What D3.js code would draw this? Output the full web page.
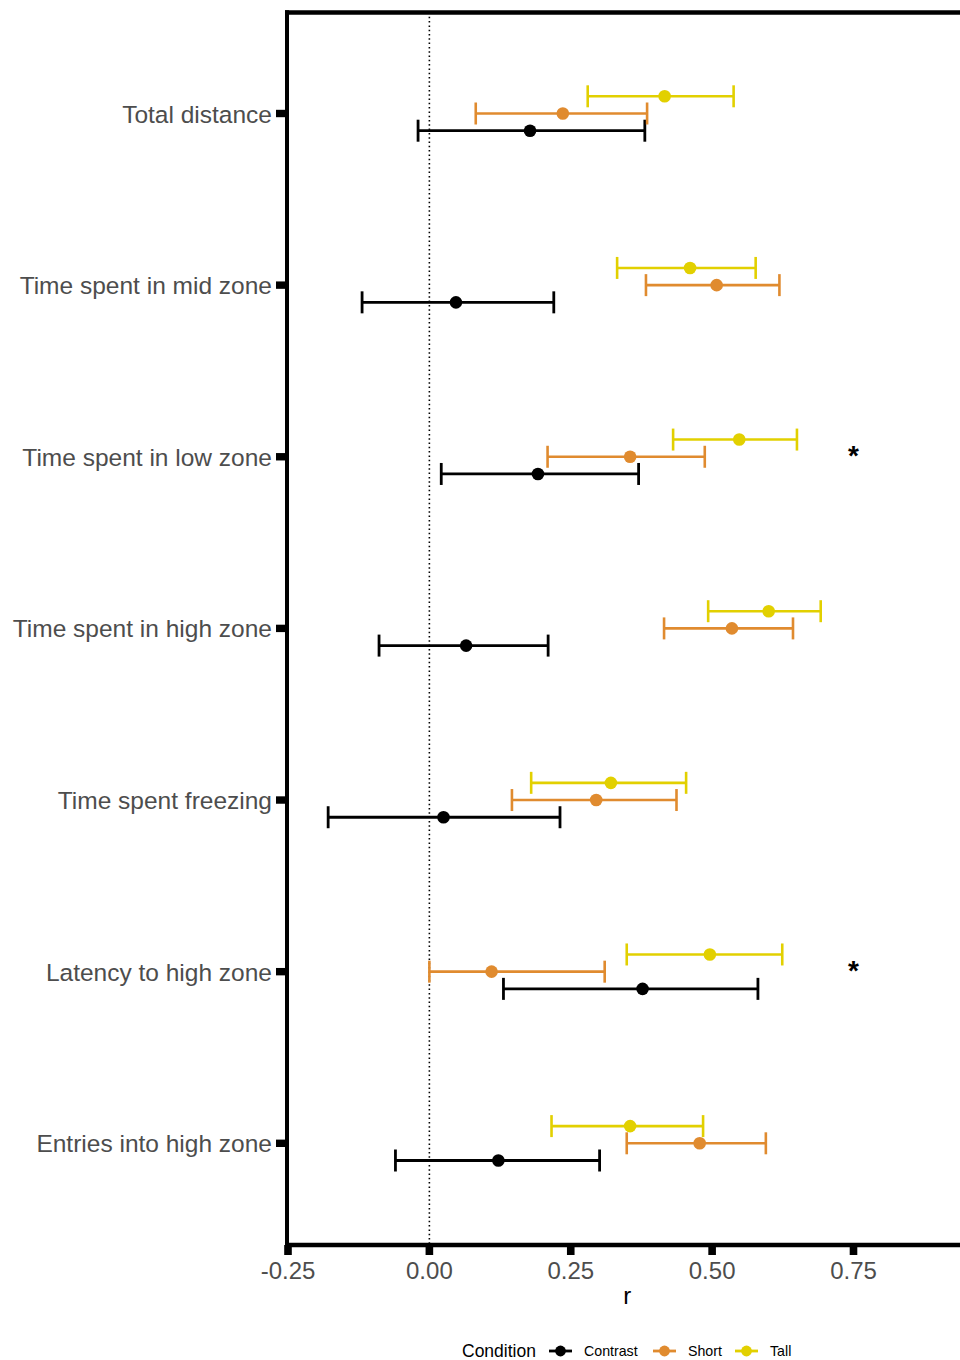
<!DOCTYPE html>
<html>
<head>
<meta charset="utf-8">
<script src="https://cdn.jsdelivr.net/npm/d3@7"></script>
<style>
  html, body { margin: 0; padding: 0; background: #ffffff; }
  svg { display: block; font-family: "Liberation Sans", Arial, Helvetica, sans-serif; }
</style>
</head>
<body>
<svg id="chart" width="960" height="1360"></svg>
<script>
// Correlation estimates (r) with confidence intervals per behavioural measure
const measures = [
  "Total distance",
  "Time spent in mid zone",
  "Time spent in low zone",
  "Time spent in high zone",
  "Time spent freezing",
  "Latency to high zone",
  "Entries into high zone"
];
const conditions = ["Contrast", "Short", "Tall"];
const conditionColors = ["#000000", "#E08B2F", "#E2D000"];

const contrastR  = [0.178, 0.047, 0.192, 0.065, 0.025, 0.377, 0.122];
const contrastLo = [-0.020, -0.119, 0.021, -0.089, -0.179, 0.131, -0.060];
const contrastHi = [0.381, 0.220, 0.370, 0.210, 0.231, 0.581, 0.301];

const shortR  = [0.236, 0.508, 0.355, 0.535, 0.295, 0.110, 0.478];
const shortLo = [0.082, 0.383, 0.209, 0.415, 0.146, 0.000, 0.349];
const shortHi = [0.385, 0.619, 0.487, 0.643, 0.437, 0.310, 0.595];

const tallR  = [0.416, 0.461, 0.548, 0.600, 0.321, 0.496, 0.355];
const tallLo = [0.280, 0.332, 0.431, 0.493, 0.180, 0.349, 0.216];
const tallHi = [0.538, 0.577, 0.650, 0.692, 0.454, 0.624, 0.484];

const xTicks = [-0.25, 0, 0.25, 0.5, 0.75];
const xTickLabels = ["-0.25", "0.00", "0.25", "0.50", "0.75"];
const sigMeasures = ["Time spent in low zone", "Latency to high zone"];
const sigX = 0.75;

// Long-format rows built from the arrays above
const seriesR  = [contrastR, shortR, tallR];
const seriesLo = [contrastLo, shortLo, tallLo];
const seriesHi = [contrastHi, shortHi, tallHi];
const rows = [];
conditions.forEach((c, ci) => {
  measures.forEach((m, mi) => {
    rows.push({ condition: c, ci: ci, measure: m, r: seriesR[ci][mi], lo: seriesLo[ci][mi], hi: seriesHi[ci][mi] });
  });
});

const svg = d3.select("#chart");

const panel = { left: 287, top: 12.5, bottom: 1245 };
const x = d3.scaleLinear().domain([-0.25, 1]).range([288, 288 + 1.25 * 565.5]);
const y = d3.scalePoint().domain(measures).range([113.5, 1143.3]);
const dodgeStep = 17.2; // Contrast below, Tall above
const dodge = d => (1 - d.ci) * dodgeStep;
const color = d3.scaleOrdinal().domain(conditions).range(conditionColors);

// Reference line at r = 0
svg.append("line")
  .attr("x1", x(0)).attr("x2", x(0))
  .attr("y1", panel.top).attr("y2", panel.bottom)
  .attr("stroke", "#000").attr("stroke-width", 1.6)
  .attr("stroke-dasharray", "1.5,2.8");

// Error bars
const capHalf = 11;
const eb = svg.append("g").selectAll("g").data(rows).join("g")
  .attr("stroke", d => color(d.condition))
  .attr("stroke-width", d => d.ci === 0 ? 2.8 : 2.6)
  .attr("fill", "none");
eb.append("line")
  .attr("x1", d => x(d.lo)).attr("x2", d => x(d.hi))
  .attr("y1", d => y(d.measure) + dodge(d)).attr("y2", d => y(d.measure) + dodge(d));
eb.append("line")
  .attr("x1", d => x(d.lo)).attr("x2", d => x(d.lo))
  .attr("y1", d => y(d.measure) + dodge(d) - capHalf).attr("y2", d => y(d.measure) + dodge(d) + capHalf);
eb.append("line")
  .attr("x1", d => x(d.hi)).attr("x2", d => x(d.hi))
  .attr("y1", d => y(d.measure) + dodge(d) - capHalf).attr("y2", d => y(d.measure) + dodge(d) + capHalf);

// Point estimates
svg.append("g").selectAll("circle").data(rows).join("circle")
  .attr("cx", d => x(d.r))
  .attr("cy", d => y(d.measure) + dodge(d))
  .attr("r", 6.3)
  .attr("fill", d => color(d.condition));

// Significance markers
svg.append("g").selectAll("text").data(sigMeasures).join("text")
  .attr("x", x(sigX))
  .attr("y", d => y(d) + 8)
  .attr("text-anchor", "middle")
  .attr("font-size", 28)
  .attr("font-weight", "bold")
  .attr("fill", "#000")
  .text("*");

// Panel border lines (top, left, bottom)
svg.append("line")
  .attr("x1", panel.left - 2).attr("x2", 960)
  .attr("y1", panel.top).attr("y2", panel.top)
  .attr("stroke", "#000").attr("stroke-width", 4.5);
svg.append("line")
  .attr("x1", panel.left).attr("x2", panel.left)
  .attr("y1", panel.top - 2.25).attr("y2", panel.bottom + 2.25)
  .attr("stroke", "#000").attr("stroke-width", 4);
svg.append("line")
  .attr("x1", panel.left - 2).attr("x2", 960)
  .attr("y1", panel.bottom).attr("y2", panel.bottom)
  .attr("stroke", "#000").attr("stroke-width", 4.5);

// Y axis ticks and labels
const yAxis = svg.append("g");
yAxis.selectAll("rect").data(measures).join("rect")
  .attr("x", 276).attr("width", 10)
  .attr("y", d => y(d) - 3.7).attr("height", 7.4)
  .attr("fill", "#000");
yAxis.selectAll("text").data(measures).join("text")
  .attr("x", 272)
  .attr("y", d => y(d) + 9)
  .attr("text-anchor", "end")
  .attr("font-size", 24.5)
  .attr("fill", "#4d4d4d")
  .text(d => d);

// X axis ticks and labels
const xAxis = svg.append("g");
xAxis.selectAll("rect").data(xTicks).join("rect")
  .attr("x", d => x(d) - 3.8).attr("width", 7.6)
  .attr("y", panel.bottom).attr("height", 10)
  .attr("fill", "#000");
xAxis.selectAll("text").data(xTicks).join("text")
  .attr("x", d => x(d))
  .attr("y", 1278.5)
  .attr("text-anchor", "middle")
  .attr("font-size", 24)
  .attr("fill", "#4d4d4d")
  .text((d, i) => xTickLabels[i]);

// Axis title
svg.append("text")
  .attr("x", x(0.35)).attr("y", 1304)
  .attr("text-anchor", "middle")
  .attr("font-size", 24)
  .attr("fill", "#000")
  .text("r");

// Legend
const legendY = 1351;
svg.append("text")
  .attr("x", 462).attr("y", legendY + 6.3)
  .attr("font-size", 17.5).attr("fill", "#000")
  .text("Condition");
const keyX = [549, 653, 735];
const lg = svg.append("g").selectAll("g").data(conditions).join("g")
  .attr("transform", (d, i) => `translate(${keyX[i]},${legendY})`);
lg.append("line")
  .attr("x1", 0).attr("x2", 23).attr("y1", 0).attr("y2", 0)
  .attr("stroke", d => color(d)).attr("stroke-width", 2.8);
lg.append("circle")
  .attr("cx", 11.5).attr("cy", 0).attr("r", 5.4)
  .attr("fill", d => color(d));
lg.append("text")
  .attr("x", 35).attr("y", 5)
  .attr("font-size", 14.2).attr("fill", "#000")
  .text(d => d);
</script>
</body>
</html>
